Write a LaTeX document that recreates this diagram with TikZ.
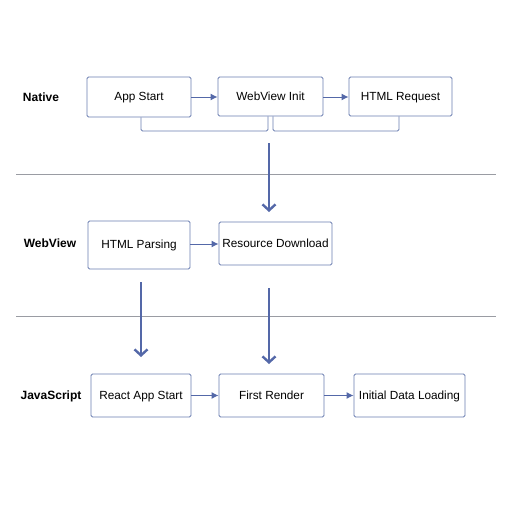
\documentclass[tikz,border=0pt]{standalone}
\usepackage{fontspec}
\setmainfont{Liberation Sans}
\usetikzlibrary{arrows.meta}
\definecolor{boxc}{HTML}{6A7DB0}
\definecolor{arrc}{HTML}{5468A8}
\definecolor{sepc}{HTML}{9A9CA3}
\tikzset{
  stepbox/.style={draw=boxc, line width=0.9pt, rounded corners=1.5pt, fill=white, inner sep=0pt, font=\fontsize{11.8}{13}\selectfont, text height=0.72em, text depth=0pt},
  lanelabel/.style={font=\fontsize{12}{13}\selectfont\bfseries, inner sep=0pt, text height=0.72em, text depth=0pt},
  smallarr/.style={draw=arrc, line width=1pt, -{Latex[length=7pt,width=7pt]}},
  bigarr/.style={draw=arrc, line width=2.4pt, -{Straight Barb[length=6pt,width=13pt,line width=2.4pt]}},
  bracket/.style={draw=boxc, line width=0.9pt, rounded corners=1.5pt},
  sep/.style={draw=sepc, line width=0.9pt}
}
\begin{document}
\begin{tikzpicture}[x=1pt,y=-1pt]
\useasboundingbox (0,0) rectangle (512,512);
% separators
\coordinate (s1a) at (16,174); \coordinate (s1b) at (496,174);
\coordinate (s2a) at (16,316); \coordinate (s2b) at (496,316);
\draw[sep] (s1a) -- (s1b);
\draw[sep] (s2a) -- (s2b);
% lane labels
\node[lanelabel] (ln) at (41,98) {Native};
\node[lanelabel] (lw) at (50,244) {WebView};
\node[lanelabel] (lj) at (51,396) {JavaScript};
% native row
\node[stepbox, minimum width=104pt, minimum height=40pt] (app) at (139,97) {App Start};
\node[stepbox, minimum width=105pt, minimum height=39pt] (wvi) at (270.5,96.5) {WebView Init};
\node[stepbox, minimum width=103pt, minimum height=39pt] (req) at (400.5,96.5) {HTML Request};
\draw[smallarr] (app.east |- 0,97) -- (wvi.west |- 0,97);
\draw[smallarr] (wvi.east |- 0,97) -- (req.west |- 0,97);
\draw[bracket] (app.south -| 141,0) -- (141,131) -- (268,131) -- (wvi.south -| 268,0);
\draw[bracket] (wvi.south -| 273,0) -- (273,131) -- (399,131) -- (req.south -| 399,0);
% webview row
\node[stepbox, minimum width=102pt, minimum height=48pt] (parse) at (139,245) {HTML Parsing};
\node[stepbox, minimum width=113pt, minimum height=43pt] (res) at (275.5,243.5) {Resource Download};
\draw[smallarr] (parse.east |- 0,244) -- (res.west |- 0,244);
% javascript row
\node[stepbox, minimum width=100pt, minimum height=43pt] (react) at (141,395.5) {React App Start};
\node[stepbox, minimum width=105pt, minimum height=43pt] (first) at (271.5,395.5) {First Render};
\node[stepbox, minimum width=111pt, minimum height=43pt] (data) at (409.5,395.5) {Initial Data Loading};
\draw[smallarr] (react) -- (first);
\draw[smallarr] (first) -- (data);
% big arrows
\coordinate (b1s) at (269,143); \coordinate (b1e) at (269,212);
\coordinate (b2s) at (141,282); \coordinate (b2e) at (141,357);
\coordinate (b3s) at (269,288); \coordinate (b3e) at (269,364);
\draw[bigarr] (b1s) -- (b1e);
\draw[bigarr] (b2s) -- (b2e);
\draw[bigarr] (b3s) -- (b3e);
\end{tikzpicture}
\end{document}
